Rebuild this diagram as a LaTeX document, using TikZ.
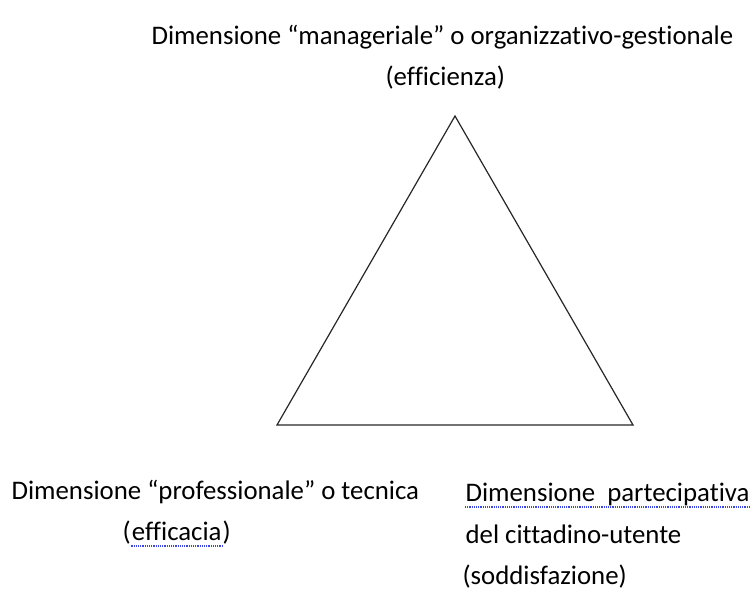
\documentclass[tikz,border=0pt]{standalone}
\usepackage{fontspec}
\setmainfont{Carlito}[Ligatures=NoCommon]
\usetikzlibrary{positioning}
\definecolor{spellblue}{RGB}{60,70,225}

\begin{document}
\begin{tikzpicture}[x=1pt,y=-1pt,line width=1.2pt,
  txt/.style={font=\fontsize{26.8}{41}\selectfont,inner sep=0pt,anchor=base west},
  squiggle/.style={spellblue,line width=1.2pt,densely dotted}]
  \useasboundingbox (0,0) rectangle (753,599);

  % the triangle
  \coordinate (top)   at (455,116);
  \coordinate (left)  at (277,425);
  \coordinate (right) at (633,425);
  \draw[black!85] (top) -- (right) -- (left) -- cycle;

  % managerial dimension
  \node[txt] (man)  at (151,45)  {Dimensione “manageriale” o organizzativo-gestionale};
  \node[txt] (eff)  at (385,86)  {(efficienza)};

  % professional dimension
  \node[txt] (prof) at (11,499)  {Dimensione “professionale” o tecnica};
  \node[txt] (lpar) at (122,540) {(};
  \node[txt] (efc)  [right=0pt of lpar.base east,anchor=base west] {efficacia};
  \node[txt] (rpar) [right=0pt of efc.base east,anchor=base west] {)};

  % participative dimension
  \node[txt] (part) at (465,501) {Dimensione\ \ partecipativa};
  \node[txt] (citt) at (465,543) {del cittadino-utente};
  \node[txt] (sod)  at (462,584) {(soddisfazione)};

  % spelling marks
  \draw[squiggle] ([yshift=-6pt]efc.base west) -- ([yshift=-6pt]efc.base east);
  \draw[squiggle] ([yshift=-6pt]part.base west) -- ([yshift=-6pt]part.base east);
\end{tikzpicture}
\end{document}
